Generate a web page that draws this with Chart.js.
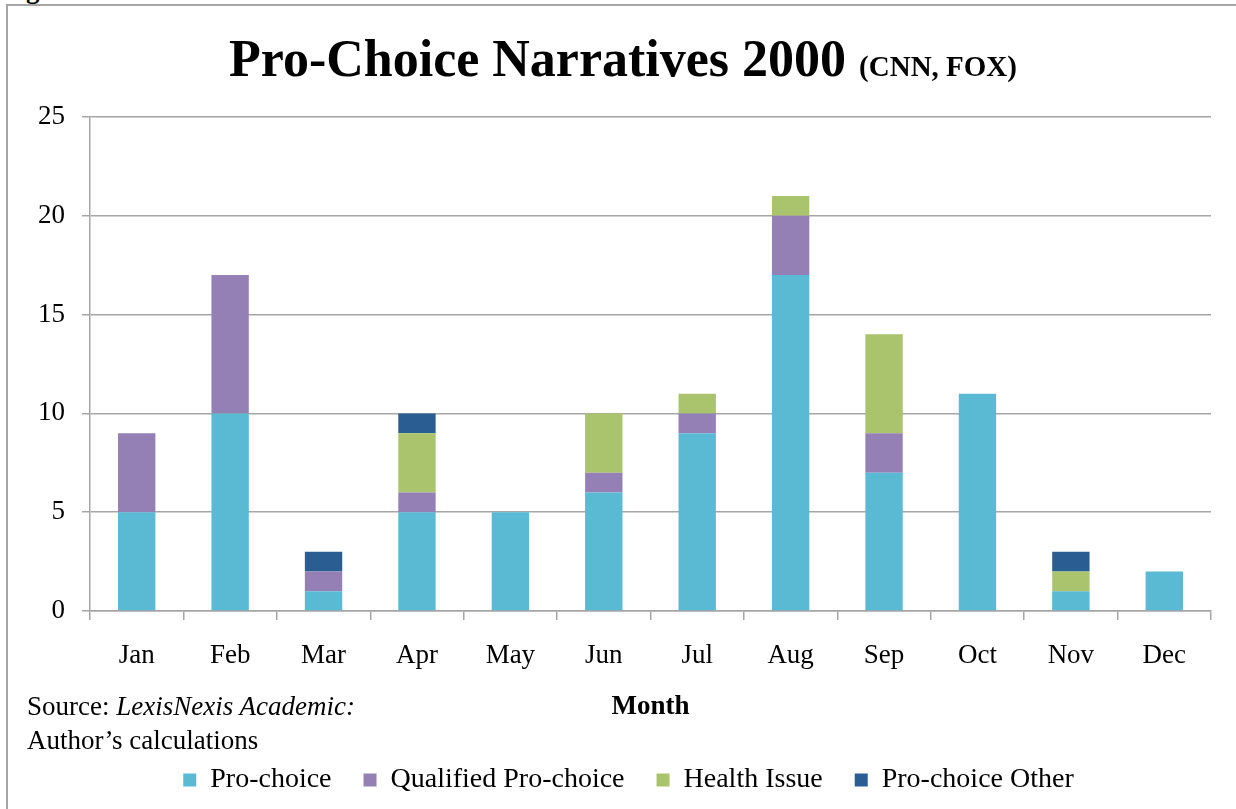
<!DOCTYPE html>
<html>
<head>
<meta charset="utf-8">
<title>Pro-Choice Narratives 2000</title>
<script src="https://cdn.jsdelivr.net/npm/chart.js@4.4.0/dist/chart.umd.min.js"></script>
<style>
  body { margin: 0; background: #fff; font-family: "Liberation Serif", serif; color: #000; }
  #wrap { position: relative; width: 1236px; height: 809px; overflow: hidden; }
  #frame { position: absolute; left: 6px; top: 4px; width: 1300px; height: 900px; border: 2px solid #a6a6a6; }
  #fig { position: absolute; left: 2px; top: -26px; font-size: 27px; line-height: 30px; font-weight: bold; }
  #title { position: absolute; left: 0; width: 1246px; top: 33px; text-align: center;
           font-size: 52px; line-height: 52px; font-weight: bold; white-space: nowrap; }
  #title span { font-size: 29px; }
  #source { position: absolute; left: 27px; top: 689px; font-size: 27px; line-height: 34px; }
  canvas { position: absolute; left: 0; top: 0; }
</style>
</head>
<body>
<div id="wrap">
  <div id="frame"></div>
  <div id="fig">Figure 7</div>
  <canvas id="chart" width="1236" height="809"></canvas>
  <div id="title">Pro-Choice Narratives 2000 <span>(CNN, FOX)</span></div>
  <div id="source">Source: <i>LexisNexis Academic:</i><br>Author’s calculations</div>
</div>
<script>
const months = ["Jan", "Feb", "Mar", "Apr", "May", "Jun", "Jul", "Aug", "Sep", "Oct", "Nov", "Dec"];
const proChoice = [5, 10, 1, 5, 5, 6, 9, 17, 7, 11, 1, 2];
const qualified = [4, 7, 1, 1, 0, 1, 1, 3, 2, 0, 0, 0];
const health    = [0, 0, 0, 3, 0, 3, 1, 1, 5, 0, 1, 0];
const other     = [0, 0, 1, 1, 0, 0, 0, 0, 0, 0, 1, 0];
const yTicks = [0, 5, 10, 15, 20, 25];

const gridColor = "#a6a6a6";
const labelFont = { family: "Liberation Serif", size: 27 };

function serie(label, data, color) {
  return { label: label, data: data, backgroundColor: color, borderWidth: 0,
           barPercentage: 0.4, categoryPercentage: 1 };
}

// legend sits a bit right of centre in the original
const legendShift = {
  id: "legendShift",
  afterLayout(c) { c.legend.left += 23; c.legend.right += 23; }
};

new Chart(document.getElementById("chart"), {
  type: "bar",
  data: {
    labels: months,
    datasets: [
      serie("Pro-choice", proChoice, "#5ab9d3"),
      serie("Qualified Pro-choice", qualified, "#9480b5"),
      serie("Health Issue", health, "#aac46d"),
      serie("Pro-choice Other", other, "#2a5d92")
    ]
  },
  plugins: [legendShift],
  options: {
    responsive: false,
    animation: false,
    layout: { padding: { left: 0, right: 25, top: 117, bottom: 5 } },
    plugins: {
      legend: {
        position: "bottom",
        labels: { boxWidth: 13, boxHeight: 13, padding: 32, color: "#000",
                  font: { family: "Liberation Serif", size: 28 } }
      },
      tooltip: { enabled: false }
    },
    scales: {
      x: {
        stacked: true,
        afterFit: s => { s.height = 123; },
        grid: { display: true, drawOnChartArea: false, tickLength: 9, color: gridColor, lineWidth: 1.5 },
        border: { color: gridColor, width: 1.5 },
        ticks: { color: "#000", font: labelFont, padding: 20 },
        title: { display: true, text: "Month", color: "#000",
                 font: { family: "Liberation Serif", size: 27, weight: "bold" },
                 padding: { top: 0, bottom: 11 } }
      },
      y: {
        stacked: true,
        min: 0,
        max: 25,
        afterFit: s => { s.width = 90; },
        afterBuildTicks: s => { s.ticks = yTicks.map(v => ({ value: v })); },
        grid: { color: gridColor, lineWidth: 1.5, tickLength: 8 },
        border: { color: gridColor, width: 1.5 },
        ticks: { color: "#000", font: labelFont, padding: 17 }
      }
    }
  }
});
</script>
</body>
</html>
